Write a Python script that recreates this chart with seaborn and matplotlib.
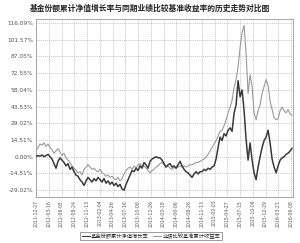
import numpy as np
import pandas as pd
import matplotlib
matplotlib.use("Agg")
import matplotlib.pyplot as plt
import seaborn as sns

title = "基金份额累计净值增长率与同期业绩比较基准收益率的历史走势对比图"
series_names = ["基金份额累计净值增长率", "业绩比较基准累计收益率"]

fund = [0, 1, 0.5, 1.5, 0, 1, 2, 0, -2, -6, -10, -4, -1, -3, -5, -8, -6, -11, -9, -13,
        -16, -17, -20, -22, -25, -21, -18, -20, -22, -19, -21, -18, -20, -22, -19, -23, -21, -24, -22, -25,
        -23, -26, -24, -28, -29, -24, -20, -16, -12, -13, -10, -12, -8, -10, -5, -7, -10, -4, -2, -1,
        0, -1, -1, -3, -6, -9, -7, -6, -9, -8, -10, -7, -4, -8, -11, -13, -14, -16, -18, -15,
        -13, -15, -13, -13, -11, -12, -10, -11, -9, -8, -2, 8, 17, 14, 20, 18, 23, 25, 22, 38,
        45, 66, 52, 58, 40, 15, -3, 12, -3, -14, -20, -9, 0, 8, 14, 17, 23, 12, -2, -9,
        -14, -8, -3, -1, 0, 2, 3, 5, 7.5]

bench = [5, 8, 11, 10, 12, 9, 11, 8, 6, 3, 5, 7, 4, 1, 3, -1, -3, -5, -8, -10,
         -12, -14, -13, -16, -11, -9, -7, -9, -11, -10, -12, -13, -11, -14, -15, -17, -16, -18, -17, -19,
         -20, -18, -21, -19, -15, -12, -10, -9, -11, -8, -10, -7, -6, -9, -8, -10, -12, -14, -12, -11,
         -9, -8, -6, -5, -7, -9, -8, -10, -11, -9, -10, -9, -8, -9, -8, -9, -8, -7, -7, -6,
         -5, -5, -4, -3, -2, 0, 2, 5, 8, 11, 14, 18, 22, 23, 27, 32, 38, 43, 49, 60,
         67, 78, 95, 108, 114, 90, 55, 71, 61, 38, 32, 40, 45, 55, 61, 67, 62, 48, 41, 34,
         32, 33, 40, 43, 40, 38, 41, 37, 36]

date_labels = ["2011-12-27", "2012-03-16", "2012-06-05", "2012-08-24", "2012-11-13",
               "2013-02-04", "2013-04-26", "2013-07-16", "2013-10-08", "2013-12-26",
               "2014-03-18", "2014-06-06", "2014-08-26", "2014-11-13", "2015-02-03",
               "2015-04-27", "2015-07-15", "2015-10-09", "2015-12-29", "2016-03-21",
               "2016-06-08"]

ytick_values = [116.09, 101.57, 87.05, 72.55, 58.04, 43.53, 29.02, 14.51, 0.00, -14.51, -29.02]
ytick_labels = ["116.09%", "101.57%", "87.05%", "72.55%", "58.04%", "43.53%", "29.02%",
                "14.51%", "0.00%", "-14.51%", "-29.02%"]

df = pd.DataFrame({
    "idx": list(range(len(fund))) + list(range(len(bench))),
    "val": fund + bench,
    "name": [series_names[0]] * len(fund) + [series_names[1]] * len(bench),
})

sns.set_style("white")
plt.rcParams['font.family'] = ['Noto Sans CJK SC', 'DejaVu Sans']

fig = plt.figure(figsize=(3.0, 2.43), dpi=100)
ax = fig.add_axes([0.12, 1 - 197 / 243, 0.857, (197 - 19) / 243])

sns.lineplot(data=df, x="idx", y="val", hue="name", palette=["#3a3a3a", "#9a9a9a"],
             ax=ax, legend=False, estimator=None, sort=False)
ax.lines[0].set_linewidth(1.1)
ax.lines[1].set_linewidth(0.8)
# draw grey benchmark beneath? keep order: fund over benchmark
ax.lines[0].set_zorder(3)
ax.lines[1].set_zorder(2)

ax.set_xlim(0, 128.5)
ax.set_ylim(-35, 119.6)
step = 12.75 / 2
ax.set_xticks([k * step for k in range(len(date_labels))])
ax.set_xticklabels(date_labels, rotation=90, fontsize=3.3, color="#555555",
                   family=['DejaVu Sans'])
ax.set_yticks(ytick_values)
ax.set_yticklabels(ytick_labels, fontsize=4.2, color="#555555", family=['DejaVu Sans'])
ax.tick_params(axis='both', length=0, pad=2)
ax.set_xlabel("")
ax.set_ylabel("")
ax.grid(True, linestyle=(0, (1.5, 1.5)), color="#b0b0b0", linewidth=0.5)
for s in ax.spines.values():
    s.set_color("#9a9a9a")
    s.set_linewidth(0.6)
ax.set_axisbelow(True)

fig.text(0.5, 1 - 8 / 243, title, ha="center", va="center", fontsize=5.6,
         fontweight="bold", color="#222222")

from matplotlib.lines import Line2D
handles = [Line2D([], [], color="#3a3a3a", lw=0.8), Line2D([], [], color="#9a9a9a", lw=0.8)]
leg = fig.legend(handles, series_names, loc="center", bbox_to_anchor=(151 / 300, 1 - 236 / 243),
                 ncol=2, fontsize=3.8, frameon=True, fancybox=False, handlelength=1.5,
                 handletextpad=0.3, columnspacing=0.8, borderpad=0.3)
leg.get_frame().set_edgecolor("#555555")
leg.get_frame().set_linewidth(0.5)

fig.savefig("out.png", dpi=100)
